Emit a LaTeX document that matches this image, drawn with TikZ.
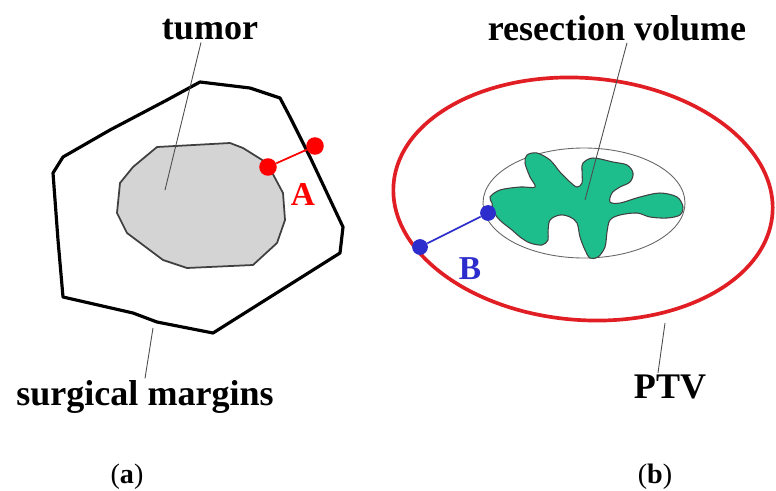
\documentclass[tikz,border=0pt]{standalone}
\usepackage{fontspec}
\setmainfont{Liberation Serif}
\usetikzlibrary{positioning,calc}
\definecolor{blobgreen}{RGB}{30,190,140}
\definecolor{ptvred}{RGB}{225,30,35}
\definecolor{markblue}{RGB}{45,45,205}

\begin{document}
\begin{tikzpicture}[x=0.02cm, y=-0.02cm,
  lbl/.style={font=\fontsize{20.5}{22}\selectfont\bfseries, inner sep=1pt},
  letter/.style={font=\fontsize{19}{21}\selectfont\bfseries, inner sep=1pt},
  leader/.style={draw=black!70, line width=0.5pt},
  dotA/.style={circle, fill=red, inner sep=0pt, minimum size=10pt},
  dotB/.style={circle, fill=markblue, inner sep=0pt, minimum size=9pt},
  sub/.style={font=\fontsize{16}{18}\selectfont}]
\useasboundingbox (0,0) rectangle (776,490);
% (a) tumor and surgical margins
\draw[line width=1.8pt, line join=round]
  (200,82) -- (250,88) -- (280,98) -- (290,117) -- (310,157) -- (343,227)
  -- (340,253) -- (213,333) -- (157,322) -- (133,313) -- (63,297)
  -- (58,240) -- (53,173) -- (63,157) -- (110,130) -- (167,100) -- cycle;
\draw[draw=black!75, line width=1pt, fill=black!17, line join=round]
  (157,147) -- (230,143) -- (243,148) -- (267,163) -- (283,193) -- (285,220)
  -- (277,243) -- (253,265) -- (187,268) -- (163,260) -- (127,233)
  -- (117,213) -- (120,183) -- (133,167) -- cycle;
\node[lbl] (tumor) at (210,30) {tumor};
\node[lbl] (margins) at (145,397) {surgical margins};
\coordinate (tumorin) at (165,190);
\coordinate (marginedge) at (153,328);
\draw[leader] (tumor.south) ++(-9,0) -- (tumorin);
\draw[leader] (margins.north) -- (marginedge);
\node[dotA] (a1) at (268,167) {};
\node[dotA] (a2) at (315,146) {};
\draw[red, line width=1pt] (a1) -- (a2);
\node[letter, text=red] (labA) at (303,194) {A};
% (b) resection volume and PTV
\draw[ptvred, line width=2.1pt, rotate around={-4.5:(583,199)}]
  (583,199) ellipse [x radius=190, y radius=121];
\draw[black!60, line width=0.5pt] (584,203) ellipse [x radius=101, y radius=55];
\draw[black!75, line width=0.6pt, fill=blobgreen]
  plot[smooth cycle, tension=0.55] coordinates {
  (490,197) (500,190) (520,187) (535,187) (530,177) (525,163) (527,155)
  (537,153) (550,160) (560,172) (570,182) (577,187) (582,183) (582,170)
  (583,163) (593,158) (613,162) (627,165) (633,173) (630,182) (620,187)
  (612,193) (610,202) (620,203) (640,197) (660,193) (677,197) (683,207)
  (680,215) (667,218) (650,217) (637,213) (620,215) (610,220) (607,232)
  (605,247) (598,257) (590,258) (585,250) (580,237) (577,223) (570,217)
  (560,215) (550,220) (548,232) (548,240) (542,245) (530,243) (520,237)
  (512,230) (503,223) (497,217) (493,210) (492,203)};
\node[lbl] (resection) at (617,28) {resection volume};
\node[lbl] (ptv) at (670,387) {PTV};
\coordinate (blobin) at (585,200);
\coordinate (ptvedge) at (665,323);
\draw[leader] (resection.south) ++(10,0) -- (blobin);
\draw[leader] (ptv.north) ++(-12,0) -- (ptvedge);
\node[dotB] (b1) at (488,213) {};
\node[dotB] (b2) at (420,247) {};
\draw[markblue, line width=1pt] (b1) -- (b2);
\node[letter, text=markblue] (labB) at (470,269) {B};
% captions
\node[sub] (capa) at (127,477) {(\textbf{a})};
\node[sub] (capb) at (655,477) {(\textbf{b})};
\end{tikzpicture}
\end{document}
